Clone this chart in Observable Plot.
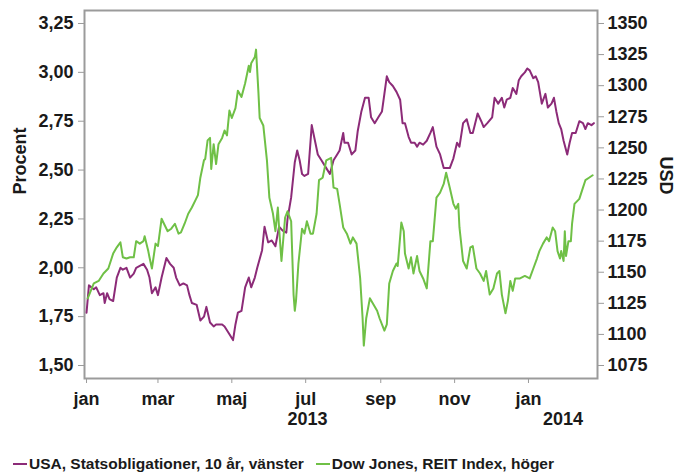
<!DOCTYPE html>
<html>
<head>
<meta charset="utf-8">
<script src="https://cdn.jsdelivr.net/npm/d3@7"></script>
<script src="https://cdn.jsdelivr.net/npm/@observablehq/plot@0.6"></script>
<style>
  html, body { margin: 0; padding: 0; background: #fff; }
  body { width: 678px; height: 475px; overflow: hidden; font-family: "Liberation Sans", Arial, sans-serif; }
  #legend { display: flex; align-items: center; height: 48px; margin-left: 13px; font-weight: bold; font-size: 15.5px; color: #1a1a1a; white-space: nowrap; }
  #legend .item { display: flex; align-items: center; margin-right: 12px; }
  #legend .sw { display: inline-block; width: 14px; height: 2px; margin-right: 2px; }
</style>
</head>
<body>
<div id="chart"></div>
<div id="legend"></div>
<script>
// ---- Data ----
const usaYield = [
["2013-01-01",1.77],["2013-01-03",1.91],["2013-01-07",1.89],["2013-01-09",1.90],["2013-01-12",1.86],["2013-01-15",1.87],["2013-01-16",1.82],["2013-01-18",1.87],["2013-01-20",1.84],["2013-01-23",1.83],["2013-01-26",1.95],["2013-01-29",2.00],["2013-01-31",1.99],["2013-02-03",2.00],["2013-02-06",1.95],["2013-02-09",1.97],["2013-02-11",2.00],["2013-02-14",2.01],["2013-02-17",2.02],["2013-02-20",1.99],["2013-02-22",1.95],["2013-02-24",1.87],["2013-02-27",1.90],["2013-03-01",1.86],["2013-03-04",1.95],["2013-03-08",2.05],["2013-03-11",2.02],["2013-03-14",2.00],["2013-03-16",1.95],["2013-03-19",1.91],["2013-03-22",1.92],["2013-03-25",1.91],["2013-03-27",1.86],["2013-03-29",1.82],["2013-04-02",1.81],["2013-04-05",1.73],["2013-04-08",1.75],["2013-04-10",1.80],["2013-04-13",1.72],["2013-04-16",1.70],["2013-04-18",1.71],["2013-04-23",1.71],["2013-04-25",1.70],["2013-04-28",1.67],["2013-05-02",1.63],["2013-05-04",1.71],["2013-05-06",1.77],["2013-05-09",1.78],["2013-05-12",1.90],["2013-05-15",1.95],["2013-05-17",1.90],["2013-05-20",1.95],["2013-05-22",2.00],["2013-05-26",2.09],["2013-05-28",2.21],["2013-05-31",2.13],["2013-06-03",2.14],["2013-06-06",2.11],["2013-06-09",2.21],["2013-06-12",2.19],["2013-06-15",2.18],["2013-06-16",2.25],["2013-06-19",2.36],["2013-06-22",2.54],["2013-06-24",2.60],["2013-06-26",2.55],["2013-06-28",2.48],["2013-06-30",2.47],["2013-07-03",2.48],["2013-07-06",2.73],["2013-07-09",2.64],["2013-07-11",2.58],["2013-07-14",2.55],["2013-07-18",2.51],["2013-07-21",2.48],["2013-07-24",2.55],["2013-07-27",2.58],["2013-07-29",2.60],["2013-08-01",2.69],["2013-08-02",2.64],["2013-08-05",2.64],["2013-08-08",2.58],["2013-08-11",2.60],["2013-08-13",2.70],["2013-08-16",2.80],["2013-08-19",2.87],["2013-08-22",2.87],["2013-08-24",2.77],["2013-08-27",2.74],["2013-08-30",2.77],["2013-09-02",2.80],["2013-09-04",2.89],["2013-09-06",2.98],["2013-09-08",2.95],["2013-09-11",2.93],["2013-09-14",2.90],["2013-09-17",2.86],["2013-09-18",2.80],["2013-09-19",2.74],["2013-09-21",2.74],["2013-09-24",2.67],["2013-09-26",2.64],["2013-09-29",2.64],["2013-10-01",2.62],["2013-10-03",2.64],["2013-10-06",2.63],["2013-10-09",2.65],["2013-10-12",2.69],["2013-10-14",2.72],["2013-10-17",2.62],["2013-10-20",2.58],["2013-10-23",2.51],["2013-10-25",2.51],["2013-10-28",2.51],["2013-10-31",2.56],["2013-11-03",2.64],["2013-11-05",2.62],["2013-11-08",2.74],["2013-11-11",2.76],["2013-11-14",2.69],["2013-11-16",2.69],["2013-11-20",2.79],["2013-11-23",2.75],["2013-11-25",2.72],["2013-11-28",2.74],["2013-12-02",2.77],["2013-12-04",2.87],["2013-12-07",2.84],["2013-12-10",2.87],["2013-12-12",2.82],["2013-12-14",2.86],["2013-12-17",2.87],["2013-12-19",2.92],["2013-12-22",2.89],["2013-12-24",2.96],["2013-12-26",2.98],["2013-12-29",3.00],["2013-12-31",3.02],["2014-01-02",3.01],["2014-01-05",2.97],["2014-01-07",2.98],["2014-01-09",2.95],["2014-01-12",2.84],["2014-01-15",2.89],["2014-01-17",2.82],["2014-01-20",2.84],["2014-01-22",2.87],["2014-01-24",2.80],["2014-01-26",2.74],["2014-01-28",2.71],["2014-01-30",2.65],["2014-02-02",2.58],["2014-02-04",2.64],["2014-02-06",2.69],["2014-02-09",2.69],["2014-02-12",2.75],["2014-02-15",2.74],["2014-02-17",2.71],["2014-02-19",2.74],["2014-02-22",2.73],["2014-02-24",2.74]
];

const reitIndex = [
["2013-01-02",1129],["2013-01-07",1141],["2013-01-11",1143],["2013-01-15",1149],["2013-01-19",1153],["2013-01-23",1165],["2013-01-26",1170],["2013-01-29",1174],["2013-01-31",1162],["2013-02-03",1161],["2013-02-06",1162],["2013-02-09",1162],["2013-02-11",1175],["2013-02-14",1173],["2013-02-17",1175],["2013-02-18",1179],["2013-02-21",1167],["2013-02-22",1162],["2013-02-24",1153],["2013-02-27",1173],["2013-03-01",1171],["2013-03-04",1193],["2013-03-07",1187],["2013-03-09",1183],["2013-03-12",1185],["2013-03-15",1189],["2013-03-18",1181],["2013-03-20",1182],["2013-03-23",1189],["2013-03-26",1197],["2013-03-29",1202],["2013-04-01",1208],["2013-04-03",1212],["2013-04-05",1226],["2013-04-08",1240],["2013-04-09",1241],["2013-04-11",1256],["2013-04-13",1258],["2013-04-14",1233],["2013-04-16",1253],["2013-04-18",1237],["2013-04-20",1253],["2013-04-23",1258],["2013-04-25",1264],["2013-04-27",1260],["2013-04-29",1280],["2013-05-01",1274],["2013-05-04",1282],["2013-05-06",1296],["2013-05-09",1291],["2013-05-12",1302],["2013-05-15",1316],["2013-05-16",1311],["2013-05-17",1318],["2013-05-20",1323],["2013-05-21",1329],["2013-05-23",1294],["2013-05-24",1274],["2013-05-27",1268],["2013-05-30",1240],["2013-06-01",1210],["2013-06-04",1197],["2013-06-06",1183],["2013-06-08",1202],["2013-06-09",1186],["2013-06-11",1159],["2013-06-14",1194],["2013-06-16",1199],["2013-06-19",1191],["2013-06-21",1132],["2013-06-22",1119],["2013-06-23",1127],["2013-06-25",1157],["2013-06-28",1185],["2013-06-30",1181],["2013-07-02",1191],["2013-07-05",1181],["2013-07-07",1181],["2013-07-10",1197],["2013-07-12",1224],["2013-07-15",1226],["2013-07-18",1240],["2013-07-20",1241],["2013-07-22",1242],["2013-07-24",1218],["2013-07-27",1217],["2013-07-29",1205],["2013-08-01",1186],["2013-08-04",1181],["2013-08-07",1173],["2013-08-09",1178],["2013-08-12",1173],["2013-08-15",1145],["2013-08-17",1113],["2013-08-18",1091],["2013-08-20",1113],["2013-08-23",1129],["2013-08-26",1124],["2013-08-29",1119],["2013-08-31",1113],["2013-09-04",1103],["2013-09-06",1108],["2013-09-08",1141],["2013-09-11",1151],["2013-09-14",1157],["2013-09-15",1155],["2013-09-18",1190],["2013-09-20",1183],["2013-09-21",1165],["2013-09-24",1153],["2013-09-26",1162],["2013-09-28",1149],["2013-10-01",1163],["2013-10-03",1151],["2013-10-06",1145],["2013-10-09",1137],["2013-10-12",1175],["2013-10-14",1175],["2013-10-17",1210],["2013-10-20",1214],["2013-10-23",1221],["2013-10-25",1230],["2013-10-28",1218],["2013-10-31",1205],["2013-11-02",1201],["2013-11-04",1205],["2013-11-05",1186],["2013-11-08",1159],["2013-11-11",1153],["2013-11-14",1170],["2013-11-16",1171],["2013-11-19",1153],["2013-11-22",1149],["2013-11-25",1143],["2013-11-27",1151],["2013-11-30",1132],["2013-12-03",1137],["2013-12-06",1149],["2013-12-08",1151],["2013-12-10",1132],["2013-12-13",1117],["2013-12-15",1127],["2013-12-17",1143],["2013-12-19",1135],["2013-12-21",1145],["2013-12-25",1145],["2013-12-29",1147],["2014-01-02",1145],["2014-01-05",1153],["2014-01-08",1161],["2014-01-10",1167],["2014-01-13",1173],["2014-01-16",1178],["2014-01-18",1175],["2014-01-21",1186],["2014-01-23",1183],["2014-01-25",1167],["2014-01-27",1161],["2014-01-28",1167],["2014-01-30",1159],["2014-01-31",1183],["2014-02-01",1163],["2014-02-03",1175],["2014-02-05",1175],["2014-02-06",1189],["2014-02-08",1205],["2014-02-10",1207],["2014-02-12",1209],["2014-02-15",1218],["2014-02-17",1224],["2014-02-20",1226],["2014-02-23",1228]
];

const leftTicks = [1.50, 1.75, 2.00, 2.25, 2.50, 2.75, 3.00, 3.25];
const rightTicks = [1075, 1100, 1125, 1150, 1175, 1200, 1225, 1250, 1275, 1300, 1325, 1350];
const monthNames = ["jan","feb","mar","apr","maj","jun","jul","aug","sep","okt","nov","dec"];
const years = [2013, 2014];
const seriesNames = ["USA, Statsobligationer, 10 år, vänster", "Dow Jones, REIT Index, höger"];
const axisTitles = ["Procent", "USD"];

// ---- Styling ----
const purple = "#8c2b78";
const green = "#6fc046";
const gray = "#9b9b9b";
const ink = "#1a1a1a";

// Right axis (USD) mapped onto the left (percent) scale
const toLeft = u => 1.5 + (u - 1075) * 1.75 / 275;
const fromLeft = v => 1075 + (v - 1.5) * 275 / 1.75;

const xDomain = [new Date(Date.UTC(2012, 11, 30, 8)), new Date(Date.UTC(2014, 1, 27))];
const monthTicks = d3.utcMonth.every(2).range(xDomain[0], xDomain[1]);
const yearMid = y => {
  const a = Math.max(+Date.UTC(y, 0, 1), +xDomain[0]);
  const b = Math.min(+Date.UTC(y + 1, 0, 1), +xDomain[1]);
  return new Date((a + b) / 2);
};
const comma = v => v.toFixed(2).replace(".", ",");

const chart = Plot.plot({
  width: 678,
  height: 440,
  marginLeft: 84,
  marginRight: 81,
  marginTop: 10,
  marginBottom: 62,
  style: { fontFamily: "'Liberation Sans', Arial, sans-serif", fontSize: "18px", fontWeight: "bold", color: ink, background: "#fff" },
  x: { type: "utc", domain: xDomain, label: null },
  y: { domain: [1.4335, 3.3165], label: null },
  marks: [
    Plot.frame({ stroke: gray, strokeWidth: 2 }),
    Plot.axisY({ anchor: "left", ticks: leftTicks, tickFormat: comma, tickSize: 6, tickPadding: 5, stroke: gray, fill: ink, label: null }),
    Plot.axisY({ anchor: "right", ticks: rightTicks.map(toLeft), tickFormat: v => String(Math.round(fromLeft(v))), tickSize: 6, tickPadding: 4, stroke: gray, fill: ink, label: null }),
    Plot.axisX({ ticks: monthTicks, tickFormat: d => monthNames[d.getUTCMonth()], tickSize: 5, tickPadding: 9, stroke: gray, fill: ink, label: null }),
    Plot.text(years, { x: yearMid, text: d => String(d), frameAnchor: "bottom", dy: 46, fill: ink }),
    Plot.text([axisTitles[0]], { text: d => d, frameAnchor: "left", dx: -64, rotate: -90, fill: ink }),
    Plot.text([axisTitles[1]], { text: d => d, frameAnchor: "right", dx: 68, rotate: 90, fill: ink }),
    Plot.line(usaYield, { x: d => new Date(d[0]), y: d => d[1], stroke: purple, strokeWidth: 2, strokeLinejoin: "round" }),
    Plot.line(reitIndex, { x: d => new Date(d[0]), y: d => toLeft(d[1]), stroke: green, strokeWidth: 2, strokeLinejoin: "round" })
  ]
});
document.getElementById("chart").appendChild(chart);

const legend = document.getElementById("legend");
[[seriesNames[0], purple], [seriesNames[1], green]].forEach(([name, color]) => {
  const item = document.createElement("span");
  item.className = "item";
  const sw = document.createElement("span");
  sw.className = "sw";
  sw.style.background = color;
  item.appendChild(sw);
  item.appendChild(document.createTextNode(name));
  legend.appendChild(item);
});
</script>
</body>
</html>
